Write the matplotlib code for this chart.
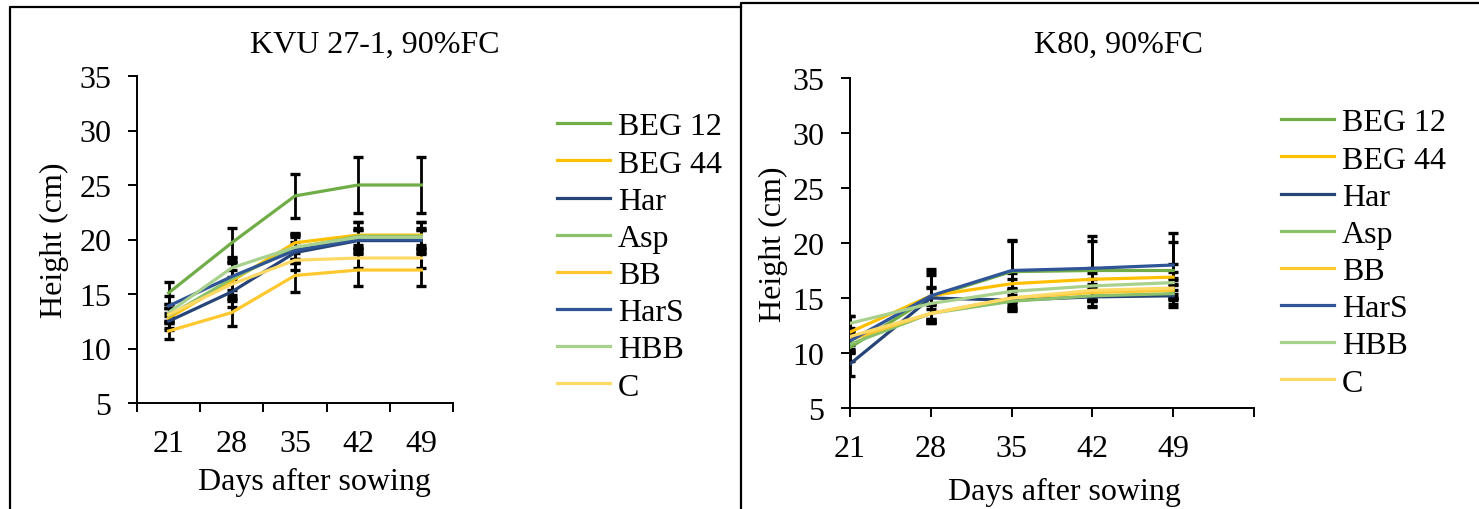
import matplotlib
matplotlib.use("Agg")
import matplotlib.pyplot as plt
from matplotlib.lines import Line2D

plt.rcParams['font.family'] = ['Liberation Serif', 'DejaVu Serif']

W, H = 1479, 510

days = [21, 28, 35, 42, 49]
series = ['BEG 12', 'BEG 44', 'Har', 'Asp', 'BB', 'HarS', 'HBB', 'C']
colours = ['#70AD47', '#FFC000', '#264478', '#8BC16A',
           '#FFC82E', '#2F5597', '#A9D18E', '#FFD966']

# KVU 27-1, 90%FC
kvu_mean = {
    'BEG 12': [15.1, 19.7, 24.0, 25.0, 25.0],
    'BEG 44': [12.8, 16.2, 19.7, 20.4, 20.4],
    'Har':    [12.5, 15.2, 18.8, 19.9, 19.9],
    'Asp':    [13.0, 16.4, 19.2, 20.3, 20.3],
    'BB':     [11.6, 13.3, 16.7, 17.2, 17.2],
    'HarS':   [13.9, 16.6, 19.0, 20.0, 20.0],
    'HBB':    [13.3, 17.4, 19.3, 20.2, 20.2],
    'C':      [13.1, 15.9, 18.1, 18.3, 18.3],
}
kvu_err = {
    'BEG 12': [1.0, 1.4, 2.0, 2.6, 2.6],
    'BEG 44': [0.9, 1.8, 0.9, 1.2, 1.2],
    'Har':    [0.8, 1.4, 1.0, 1.0, 1.0],
    'Asp':    [0.7, 1.5, 1.3, 0.8, 0.8],
    'BB':     [0.7, 1.2, 1.5, 1.5, 1.5],
    'HarS':   [0.9, 1.2, 1.2, 0.9, 0.9],
    'HBB':    [0.8, 1.0, 1.1, 1.4, 1.4],
    'C':      [0.6, 1.3, 0.9, 0.9, 0.9],
}

# K80, 90%FC
k80_mean = {
    'BEG 12': [10.5, 15.1, 17.4, 17.5, 17.5],
    'BEG 44': [11.9, 15.2, 16.3, 16.7, 16.9],
    'Har':    [9.0, 15.0, 14.8, 15.1, 15.2],
    'Asp':    [10.8, 13.6, 14.7, 15.2, 15.4],
    'BB':     [11.2, 13.6, 15.0, 15.5, 15.7],
    'HarS':   [11.1, 15.2, 17.5, 17.7, 18.0],
    'HBB':    [12.7, 14.5, 15.6, 16.1, 16.4],
    'C':      [11.5, 13.6, 15.0, 15.7, 15.9],
}
k80_err = {
    'BEG 12': [1.2, 2.0, 2.8, 2.7, 2.6],
    'BEG 44': [1.5, 2.4, 1.0, 1.0, 1.2],
    'Har':    [1.1, 1.0, 0.9, 0.9, 1.0],
    'Asp':    [0.8, 0.8, 0.9, 0.9, 0.9],
    'BB':     [0.9, 0.9, 0.9, 0.8, 0.9],
    'HarS':   [1.0, 2.2, 2.8, 2.9, 2.9],
    'HBB':    [0.7, 1.4, 1.1, 1.2, 1.0],
    'C':      [0.8, 0.9, 0.8, 1.0, 0.9],
}

FS = 23


def draw(ax, means, errs, title, title_x, legend_x, legend_y):
    for name in series:
        ax.errorbar(days, means[name], yerr=errs[name], fmt='none', ecolor='black',
                    elinewidth=2.0, capsize=3.4, capthick=2.4, zorder=2)
    for name, c in zip(series, colours):
        ax.plot(days, means[name], color=c, lw=2.3, label=name, zorder=3)
    ax.set_ylim(5, 35)
    ax.set_yticks(range(5, 36, 5))
    for s in ['top', 'right']:
        ax.spines[s].set_visible(False)
    for s in ['left', 'bottom']:
        ax.spines[s].set_linewidth(1.4)
    ax.tick_params(direction='out', length=6.5, width=1.4, labelsize=FS, pad=12)
    ax.set_ylabel('Height (cm)', fontsize=FS)
    ax.set_xlabel('Days after sowing', fontsize=FS)
    fig.text(title_x / W, 1 - 45 / H, title, fontsize=FS, ha='center', va='center')
    ax.legend(loc='upper left', bbox_to_anchor=(legend_x / W, 1 - legend_y / H),
              bbox_transform=fig.transFigure, frameon=False, fontsize=FS,
              handlelength=1.65, handletextpad=0.25, labelspacing=0.245,
              borderpad=0, borderaxespad=0)


fig = plt.figure(figsize=(W / 100, H / 100), dpi=100)

ax1 = fig.add_axes([137 / W, 1 - 404 / H, 316 / W, 327 / H])
draw(ax1, kvu_mean, kvu_err, 'KVU 27-1, 90%FC', 375, 557, 113)
# category style axis: ticks between categories, labels in the middle
ax1.set_xlim(17.5, 52.5)
ax1.set_xticks([17.5, 24.5, 31.5, 38.5, 45.5, 52.5])
ax1.set_xticklabels([])
ax1.set_xticks(days, minor=True)
ax1.set_xticklabels([str(d) for d in days], minor=True)
ax1.tick_params(axis='x', which='minor', length=0, labelsize=FS, pad=12 + 6.5)
ax1.yaxis.set_label_coords(-0.214, 0.5)
ax1.xaxis.set_label_coords(0.56, -0.195)

ax2 = fig.add_axes([850 / W, 1 - 409 / H, 404 / W, 330 / H])
draw(ax2, k80_mean, k80_err, 'K80, 90%FC', 1118, 1281, 109)
ax2.set_xlim(21, 56)
ax2.set_xticks([21, 28, 35, 42, 49, 56])
ax2.set_xticklabels(['21', '28', '35', '42', '49', ''])
ax2.yaxis.set_label_coords(-0.153, 0.5)
ax2.xaxis.set_label_coords(0.53, -0.21)

# outer chart frames
fig.add_artist(Line2D([10 / W, 10 / W, 741 / W], [0, 1 - 8 / H, 1 - 8 / H],
                      transform=fig.transFigure, color='black', lw=1.6))
fig.add_artist(Line2D([741 / W, 741 / W, 1], [0, 1 - 4 / H, 1 - 4 / H],
                      transform=fig.transFigure, color='black', lw=1.6))

fig.savefig('out.png', dpi=100)
